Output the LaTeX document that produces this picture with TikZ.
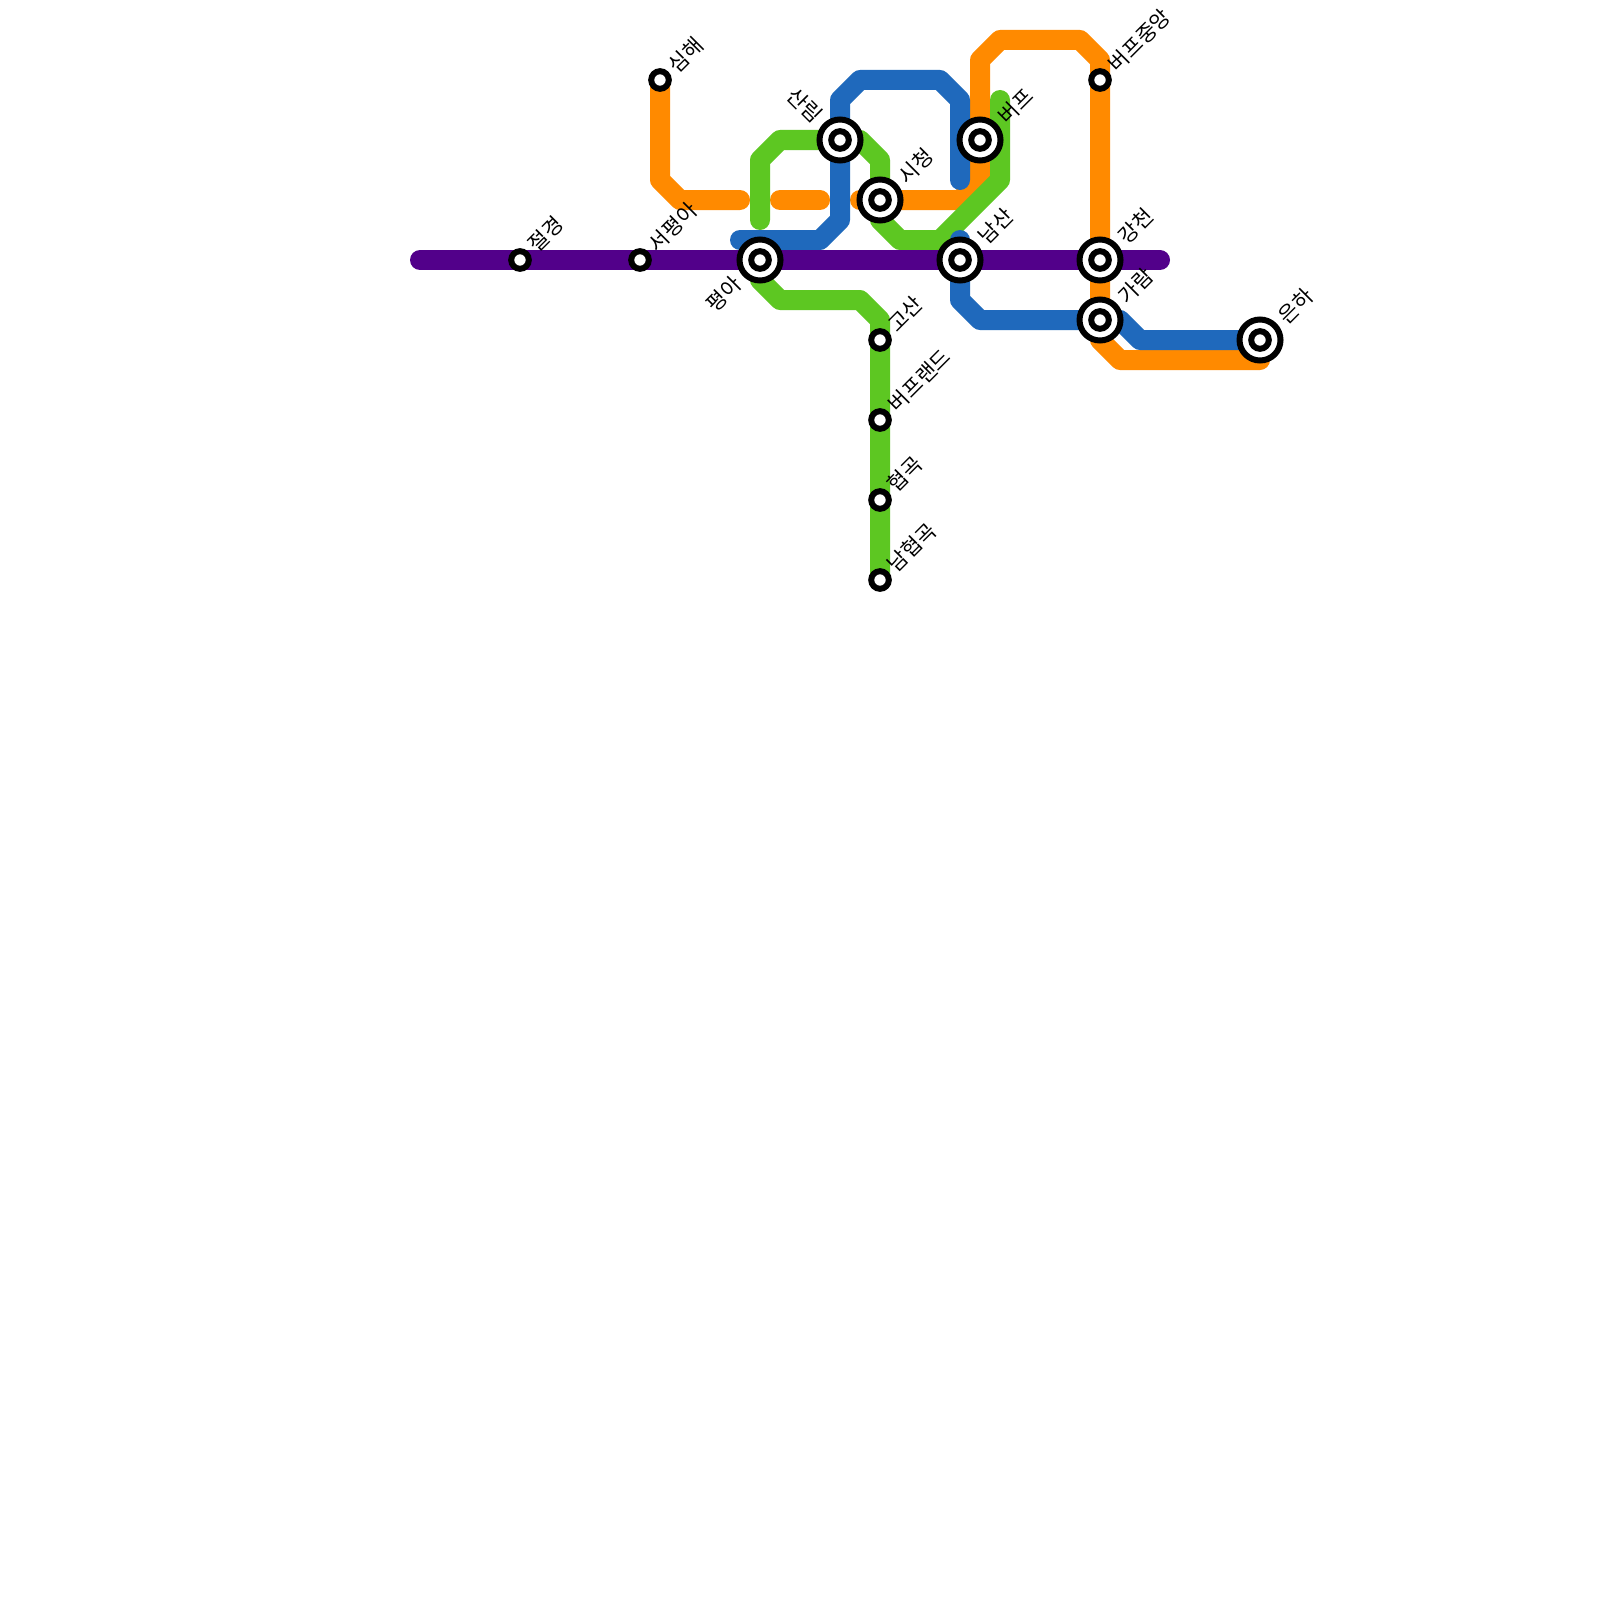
\documentclass[tikz,border=0pt]{standalone}
\usepackage{fontspec}
\setmainfont{Noto Sans CJK KR}
\definecolor{lpurple}{HTML}{52008A}
\definecolor{lorange}{HTML}{FF8A00}
\definecolor{lblue}{HTML}{1F69BC}
\definecolor{lgreen}{HTML}{5DC722}
\tikzset{
  metro/.style={line width=10pt,line cap=round,line join=round},
  hub/.style={circle,draw=black,fill=white,line width=3pt,minimum size=20.5pt,inner sep=0pt,outer sep=0pt},
  hubcore/.style={circle,draw=black,fill=white,line width=3pt,minimum size=8.8pt,inner sep=0pt,outer sep=0pt},
  stop/.style={circle,draw=black,fill=white,line width=3pt,minimum size=8.8pt,inner sep=0pt,outer sep=0pt},
  lab/.style={font=\fontsize{10.5pt}{12pt}\selectfont,inner sep=0pt,text=black},
  labr/.style={lab,rotate=45,anchor=west},
  labl/.style={lab,rotate=45,anchor=east},
  labd/.style={lab,rotate=-45,anchor=east},
}
\begin{document}
\begin{tikzpicture}[x=0.5pt,y=-0.5pt]
\useasboundingbox (0,0) rectangle (1600,1600);
\fill[white] (0,0) rectangle (1600,1600);
\coordinate (cjeol) at (520,260);
\coordinate (cseo) at (640,260);
\coordinate (cpyeong) at (760,260);
\coordinate (csan) at (840,140);
\coordinate (csi) at (880,200);
\coordinate (cbeo) at (980,140);
\coordinate (cnam) at (960,260);
\coordinate (cgang) at (1100,260);
\coordinate (cga) at (1100,320);
\coordinate (ceun) at (1260,340);
\coordinate (cjung) at (1100,80);
\coordinate (csim) at (660,80);
\coordinate (cgo) at (880,340);
\coordinate (cland) at (880,420);
\coordinate (chyeop) at (880,500);
\coordinate (cnamh) at (880,580);
% orange
\draw[metro,lorange] (csim) -- (660,180) -- (680,200) -- (740,200);
\draw[metro,lorange] (780,200) -- (820,200);
\draw[metro,lorange] (860,200) -- (960,200) -- (980,180) -- (980,60) -- (1000,40) -- (1080,40) -- (1100,60) -- (cga) -- (1100,340) -- (1120,360) -- (1260,360) -- (ceun);
% green
\draw[metro,lgreen] (760,220) -- (760,160) -- (780,140) -- (860,140) -- (880,160) -- (880,220) -- (900,240) -- (940,240) -- (1000,180) -- (1000,100);
\draw[metro,lgreen] (cpyeong) -- (760,280) -- (780,300) -- (860,300) -- (880,320) -- (cnamh);
% blue
\draw[metro,lblue] (740,240) -- (820,240) -- (840,220) -- (840,100) -- (860,80) -- (940,80) -- (960,100) -- (960,180);
\draw[metro,lblue] (960,240) -- (960,300) -- (980,320) -- (1120,320) -- (1140,340) -- (ceun);
% purple
\draw[metro,lpurple] (420,260) -- (1160,260);
% stations
\foreach \n/\c in {npyeong/cpyeong,nsan/csan,nsi/csi,nbeo/cbeo,nnam/cnam,ngang/cgang,nga/cga,neun/ceun}{
  \node[hub] (\n) at (\c) {};
  \node[hubcore] (\n core) at (\c) {};
}
\foreach \n/\c in {njeol/cjeol,nseo/cseo,njung/cjung,nsim/csim,ngo/cgo,nland/cland,nhyeop/chyeop,nnamh/cnamh}{
  \node[stop] (\n) at (\c) {};
}
% labels
\node[labr] (tjeol) at (532,248) {절경};
\node[labr] (tseo) at (652,248) {서평아};
\node[labr] (tsim) at (672,69) {심해};
\node[labr] (tjung) at (1112,68) {버프중앙};
\node[labr] (tbeo) at (1002,120) {버프};
\node[labr] (tsi) at (902,180) {시청};
\node[labr] (tnam) at (982,240) {남산};
\node[labr] (tgang) at (1122,240) {강천};
\node[labr] (tga) at (1122,300) {가람};
\node[labr] (teun) at (1282,320) {은하};
\node[labr] (tgo) at (891,328) {고산};
\node[labr] (tland) at (892,408) {버프랜드};
\node[labr] (thyeop) at (891,488) {협곡};
\node[labr] (tnamh) at (891,568) {남협곡};
\node[labl] (tpyeong) at (738,280) {평아};
\node[labd] (tsan) at (819,119) {산림};
\end{tikzpicture}
\end{document}
